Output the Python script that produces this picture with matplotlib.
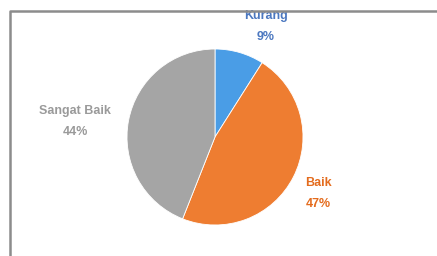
import matplotlib
matplotlib.use("Agg")
import matplotlib.pyplot as plt
from matplotlib.lines import Line2D

# data
kategori = ["Kurang", "Baik", "Sangat Baik"]
persen = [9, 47, 44]
warna = ["#4A9DE6", "#EE7D31", "#A5A5A5"]
warna_teks = ["#4C78C0", "#E46C1E", "#9A9A9A"]

W, H = 437, 256
fig = plt.figure(figsize=(W / 100, H / 100), dpi=100)
ax = fig.add_axes([0, 0, 1, 1])

ax.pie(persen, colors=warna, startangle=90, counterclock=False,
       center=(215, H - 137), radius=88,
       wedgeprops=dict(edgecolor="white", linewidth=0.6))
# pie() menimpa batas sumbu, jadi set ulang sesudahnya
ax.set_xlim(0, W)
ax.set_ylim(0, H)
ax.set_aspect("equal")
ax.axis("off")

# posisi label (piksel dari atas)
pos_label = [(266, 16), (318, 183), (75, 111)]
for nama, p, c, (x, y) in zip(kategori, persen, warna_teks, pos_label):
    ax.text(x, H - y, nama, ha="center", va="center", color=c,
            fontsize=9, fontweight="bold", family="Liberation Sans")
    ax.text(x, H - y - 21, f"{p}%", ha="center", va="center", color=c,
            fontsize=9, fontweight="bold", family="Liberation Sans")

# bingkai
fig.add_artist(Line2D([10 / W, 10 / W, 1], [0, 1 - 11 / H, 1 - 11 / H],
                      transform=fig.transFigure, color="#8C8C8C", linewidth=1.8))

fig.savefig("out.png", dpi=100)
